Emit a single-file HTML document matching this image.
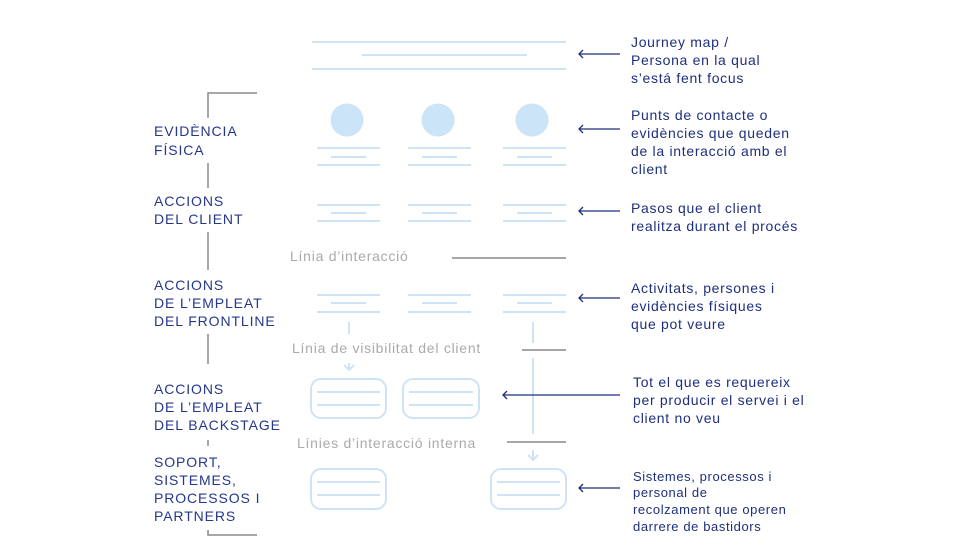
<!DOCTYPE html>
<html><head><meta charset="utf-8"><style>
html,body{margin:0;padding:0;background:#fff;}
svg{display:block;}
.lb{font-family:"Liberation Sans",sans-serif;font-size:14px;fill:#25378e;letter-spacing:0.9px;}
.rt{font-family:"Liberation Sans",sans-serif;font-size:14px;fill:#1e2f7f;letter-spacing:0.7px;}
.gt{font-family:"Liberation Sans",sans-serif;font-size:14px;fill:#aaaaaa;letter-spacing:0.75px;}
.bl{stroke:#cfe3f7;stroke-width:2;fill:none;}
.gl{stroke:#8a8a8a;stroke-width:1.5;fill:none;}
.ar{stroke:#1e2f7f;stroke-width:1.3;fill:none;}
</style></head><body>
<svg width="973" height="547" viewBox="0 0 973 547">
<line class="bl" x1="312" y1="42" x2="566" y2="42"/>
<line class="bl" x1="362" y1="55" x2="527" y2="55"/>
<line class="bl" x1="312" y1="69" x2="566" y2="69"/>
<path class="gl" d="M257 93 H208 V118"/>
<line class="gl" x1="208" y1="163" x2="208" y2="188"/>
<line class="gl" x1="208" y1="232" x2="208" y2="270"/>
<line class="gl" x1="208" y1="334" x2="208" y2="364"/>
<line class="gl" x1="208" y1="440" x2="208" y2="446"/>
<path class="gl" d="M208 530 V535 H257"/>
<circle cx="347" cy="120" r="16.5" fill="#cce4f8"/>
<circle cx="438" cy="120" r="16.5" fill="#cce4f8"/>
<circle cx="532" cy="120" r="16.5" fill="#cce4f8"/>
<g class="bl">
<path d="M317 148H380M331 157H366M317 165H380 M408 148H471M422 157H457M408 165H471 M503 148H566M517 157H552M503 165H566"/>
<path d="M317 205H380M331 213H366M317 221H380 M408 205H471M422 213H457M408 221H471 M503 205H566M517 213H552M503 221H566"/>
<path d="M317 295H380M331 303H366M317 312H380 M408 295H471M422 303H457M408 312H471 M503 295H566M517 303H552M503 312H566"/>
<path d="M349 322V334 M349 363V370 M344 365L349 370L354 365"/>
<path d="M533 322V343 M533 358V434 M533 450V460 M528 455L533 460L538 455"/>
<rect x="311" y="379" width="75" height="39" rx="10"/>
<rect x="403" y="379" width="76" height="39" rx="10"/>
<path d="M317 392H380M317 405H380 M409 392H473M409 405H473"/>
<rect x="311" y="469" width="75" height="40" rx="10"/>
<rect x="491" y="469" width="75" height="40" rx="10"/>
<path d="M317 482H380M317 495H380 M497 482H560M497 495H560"/>
</g>
<text class="gt" x="290" y="261">Línia d’interacció</text>
<line class="gl" x1="452" y1="258" x2="566" y2="258"/>
<text class="gt" x="292" y="353">Línia de visibilitat del client</text>
<line class="gl" x1="522" y1="350" x2="566" y2="350"/>
<text class="gt" x="297" y="448">Línies d’interacció interna</text>
<line class="gl" x1="507" y1="442" x2="566" y2="442"/>
<text class="lb" x="154" y="136">EVIDÈNCIA</text>
<text class="lb" x="154" y="155">FÍSICA</text>
<text class="lb" x="154" y="206">ACCIONS</text>
<text class="lb" x="154" y="224">DEL CLIENT</text>
<text class="lb" x="154" y="290">ACCIONS</text>
<text class="lb" x="154" y="308">DE L’EMPLEAT</text>
<text class="lb" x="154" y="326">DEL FRONTLINE</text>
<text class="lb" x="154" y="394">ACCIONS</text>
<text class="lb" x="154" y="412">DE L’EMPLEAT</text>
<text class="lb" x="154" y="430">DEL BACKSTAGE</text>
<text class="lb" x="154" y="467">SOPORT,</text>
<text class="lb" x="154" y="485">SISTEMES,</text>
<text class="lb" x="154" y="503">PROCESSOS I</text>
<text class="lb" x="154" y="521">PARTNERS</text>
<g class="ar">
<path d="M620 54H579 M583 50L579 54L583 58"/>
<path d="M620 129H579 M583 125L579 129L583 133"/>
<path d="M620 211H579 M583 207L579 211L583 215"/>
<path d="M620 298H579 M583 294L579 298L583 302"/>
<path d="M620 395H503 M507 391L503 395L507 399"/>
<path d="M620 488H579 M583 484L579 488L583 492"/>
</g>
<text class="rt" x="631" y="47">Journey map /</text>
<text class="rt" x="631" y="65">Persona en la qual</text>
<text class="rt" x="631" y="83">s’está fent focus</text>
<text class="rt" x="631" y="120">Punts de contacte o</text>
<text class="rt" x="631" y="138">evidències que queden</text>
<text class="rt" x="631" y="156">de la interacció amb el</text>
<text class="rt" x="631" y="174">client</text>
<text class="rt" x="631" y="213">Pasos que el client</text>
<text class="rt" x="631" y="231">realitza durant el procés</text>
<text class="rt" x="631" y="293">Activitats, persones i</text>
<text class="rt" x="631" y="311">evidències físiques</text>
<text class="rt" x="631" y="329">que pot veure</text>
<text class="rt" x="633" y="387">Tot el que es requereix</text>
<text class="rt" x="633" y="405">per producir el servei i el</text>
<text class="rt" x="633" y="423">client no veu</text>
<text class="rt" x="633" y="481" style="font-size:13px;letter-spacing:0.6px">Sistemes, processos i</text>
<text class="rt" x="633" y="497" style="font-size:13px;letter-spacing:0.6px">personal de</text>
<text class="rt" x="633" y="514" style="font-size:13px;letter-spacing:0.6px">recolzament que operen</text>
<text class="rt" x="633" y="531" style="font-size:13px;letter-spacing:0.6px">darrere de bastidors</text>
</svg>
</body></html>
